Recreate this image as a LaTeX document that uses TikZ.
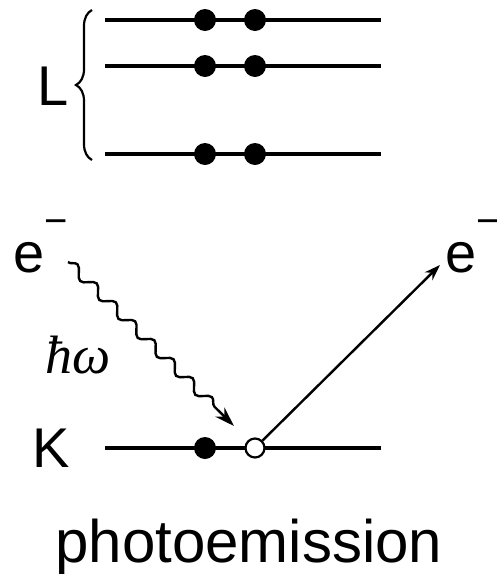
\documentclass[tikz,border=0pt]{standalone}
\usepackage[no-math]{fontspec}
\setmainfont{Liberation Sans}
\newfontfamily\quantfont{Liberation Serif}
\usetikzlibrary{arrows.meta,decorations.pathmorphing,decorations.pathreplacing}
\newcommand{\elec}{e\raisebox{0.67em}{\fontsize{20pt}{20pt}\selectfont −}}

\begin{document}
\begin{tikzpicture}[
    x=0.5pt, y=-0.5pt,
    level/.style={line width=1.7pt},
    eldot/.style={circle, fill, inner sep=0pt, minimum size=11pt},
    holedot/.style={circle, draw, fill=white, line width=1.1pt, inner sep=0pt, minimum size=9.5pt},
    lbl/.style={inner sep=0pt, anchor=base west, font=\fontsize{28pt}{28pt}\selectfont},
    photon/.style={decorate, decoration={snake, amplitude=2.5pt, segment length=13.5pt, post length=9pt}, line width=1.2pt, -{Stealth[length=10pt, width=6.5pt]}},
    arrow/.style={-{Stealth[length=8pt, width=5.5pt]}, line width=1.2pt}
  ]
    \useasboundingbox (0,0) rectangle (497,574);
    % L shell
    \foreach \y/\n in {20/1, 66/2, 154/3} {
      \coordinate (l\n w) at (105,\y);
      \coordinate (l\n e) at (381,\y);
      \draw[level] (l\n w) -- (l\n e);
      \node[eldot] (l\n a) at (205,\y) {};
      \node[eldot] (l\n b) at (255,\y) {};
    }
    \draw[decorate, decoration={brace, amplitude=8pt}, line width=1.1pt] (92,160) -- (92,10);
    \node[lbl] (lshell) at (37,105) {L};
    % K shell
    \coordinate (kw) at (105,448);
    \coordinate (ke) at (381,448);
    \draw[level] (kw) -- (ke);
    \node[eldot] (kel) at (205,448) {};
    \node[holedot] (khole) at (255,448) {};
    \node[lbl] (kshell) at (32,467) {K};
    % photon in, electron out
    \node[lbl] (ein) at (13,272) {\elec};
    \node[lbl] (eout) at (445,272) {\elec};
    \coordinate (phstart) at (68,262);
    \coordinate (phend) at (234,426);
    \draw[photon] (phstart) -- (phend);
    \node[lbl, font=\quantfont\itshape\fontsize{27pt}{27pt}\selectfont] (hw) at (45,373) {ħω};
    \coordinate (eend) at (440,265);
    \draw[arrow] (khole) -- (eend);
    \node[lbl, font=\fontsize{30pt}{30pt}\selectfont] (title) at (55,562) {photoemission};
  \end{tikzpicture}
\end{document}
